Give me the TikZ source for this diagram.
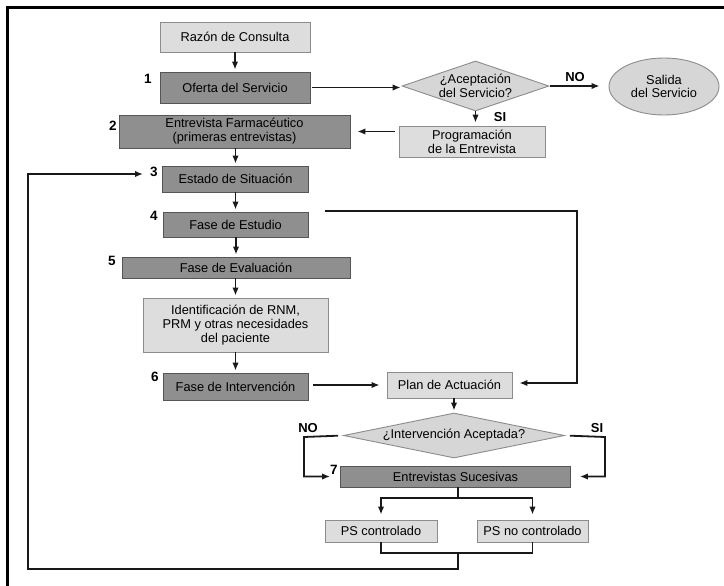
\documentclass[tikz,border=0pt]{standalone}
\usepackage{fontspec}
\setmainfont{Liberation Sans}
\usetikzlibrary{shapes.geometric,arrows.meta}
\definecolor{dkfill}{RGB}{143,143,143}
\definecolor{dkline}{RGB}{85,85,85}
\definecolor{ltfill}{RGB}{221,221,221}
\definecolor{ltline}{RGB}{140,140,140}
\definecolor{difill}{RGB}{214,214,214}
\begin{document}
\begin{tikzpicture}[x=1pt,y=-1pt,
  box/.style={draw=dkline,line width=0.9pt,inner sep=0pt,align=center,font=\fontsize{12.8}{13.8}\selectfont},
  dk/.style={box,fill=dkfill},
  lt/.style={box,fill=ltfill,draw=ltline},
  dia/.style={diamond,draw=ltline,fill=difill,line width=0.9pt,inner sep=0pt},
  ell/.style={ellipse,draw=ltline,fill=difill,line width=0.9pt,inner sep=0pt,align=center,
    minimum width=110pt,minimum height=57pt,font=\fontsize{12.8}{13.8}\selectfont},
  txt/.style={inner sep=0pt,align=center,font=\fontsize{12.8}{13.8}\selectfont},
  conn/.style={line width=1.8pt,draw=black!90,line join=miter},
  arr/.style={conn,-{Latex[length=8pt,width=6.5pt]}},
  num/.style={font=\fontsize{13.5}{13.5}\selectfont\bfseries,inner sep=0pt},
  lab/.style={font=\fontsize{13}{13}\selectfont\bfseries,inner sep=0pt}]

\useasboundingbox (0,0) rectangle (724,586);
\fill[white] (0,0) rectangle (724,586);
\draw[line width=3pt,line join=miter] (7,590) -- (7,8) -- (728,8);

% nodes
\node[lt,minimum width=150pt,minimum height=30pt] (raz) at (235,37) {Razón de Consulta};
\node[dk,minimum width=150pt,minimum height=31pt] (ofe) at (235,87.5) {Oferta del Servicio};
\node[dk,minimum width=231pt,minimum height=33pt] (ent) at (234.5,131.5) {Entrevista Farmacéutico\\(primeras entrevistas)};
\node[dk,minimum width=146pt,minimum height=26pt] (est) at (235.5,179) {Estado de Situación};
\node[dk,minimum width=145pt,minimum height=25pt] (stu) at (235.5,224.5) {Fase de Estudio};
\node[dk,minimum width=228pt,minimum height=21pt] (eva) at (236,267.5) {Fase de Evaluación};
\node[lt,minimum width=185pt,minimum height=54pt] (idn) at (235.5,325) {Identificación de RNM,\\PRM y otras necesidades\\del paciente};
\node[dk,minimum width=145pt,minimum height=27pt] (itv) at (235.5,386.5) {Fase de Intervención};
\node[lt,minimum width=125pt,minimum height=26pt] (plan) at (449.5,385) {Plan de Actuación};
\node[dia,minimum width=221pt,minimum height=45pt] (d2) at (454,435.5) {};
\node[txt] (d2t) at (d2) {¿Intervención Aceptada?};
\node[dk,minimum width=230pt,minimum height=21pt] (ses) at (455.5,476.5) {Entrevistas Sucesivas};
\node[lt,minimum width=112pt,minimum height=22pt] (psc) at (381,531) {PS controlado};
\node[lt,minimum width=111pt,minimum height=22pt] (psn) at (532.5,531) {PS no controlado};
\node[dia,minimum width=147pt,minimum height=50pt] (d1) at (475.5,86) {};
\node[txt] (d1t) at (d1) {¿Aceptación\\del Servicio?};
\node[ell] (sal) at (664,86.5) {Salida\\del Servicio};
\node[lt,minimum width=146pt,minimum height=31pt] (prog) at (472,141.5) {Programación\\de la Entrevista};

% numbers and labels
\node[num] (n1) at (148,79) {1};
\node[num] (n2) at (113,126) {2};
\node[num] (n3) at (154,172) {3};
\node[num] (n4) at (154,216) {4};
\node[num] (n5) at (112,261) {5};
\node[num] (n6) at (155,377) {6};
\node[num] (n7) at (334,470) {7};
\node[lab] (no1) at (575,77) {NO};
\node[lab] (si1) at (500,117) {SI};
\node[lab] (no2) at (308,428) {NO};
\node[lab] (si2) at (597,428) {SI};

% coordinates
\coordinate (r1) at (577,211);
\coordinate (l7) at (304,437);
\coordinate (rs) at (605,437);
\coordinate (sp) at (458,498);
\coordinate (jn) at (458,553);
\coordinate (lb) at (28,569);
\coordinate (a3) at (143,174);

% connectors
\draw[arr,shorten >=2pt] (raz) -- (ofe);
\draw[arr,shorten <=2pt,shorten >=1pt] (ofe.east) -- (ofe.east -| d1.west);
\draw[arr,shorten <=1pt,shorten >=9pt] (d1.east) -- (d1.east -| sal.west);
\draw[arr,shorten >=3pt] (d1.south) -- (d1.south |- prog.north);
\draw[arr,shorten <=4pt,shorten >=7pt] (prog.west |- ent.east) -- (ent.east);
\draw[arr,shorten >=2pt] (ent.south -| est.north) -- (est.north);
\draw[arr,shorten >=2pt] (est) -- (stu);
\draw[arr,shorten >=2pt] (stu.south -| eva.north) -- (eva.north);
\draw[arr,shorten >=2pt] (eva.south -| idn.north) -- (idn.north);
\draw[arr,shorten >=2pt] (idn) -- (itv);
\draw[arr,shorten <=5pt,shorten >=7pt] (itv.east |- plan.west) -- (plan.west);
\draw[arr,shorten >=7pt] ([xshift=17pt]stu.north east |- r1) -- (r1) |- ([yshift=2pt]plan.east);
\draw[arr,shorten >=2pt] (plan.south -| d2.north) -- (d2.north);
\draw[arr,shorten <=5pt,shorten >=10pt] (d2.west) -- (l7) |- (ses.west);
\draw[arr,shorten <=5pt,shorten >=9pt] (d2.east) -- (rs) |- (ses.east);
\draw[conn] (ses.south -| sp) -- (sp);
\draw[arr,shorten >=5pt] (sp) -| (psc.north);
\draw[arr,shorten >=5pt] (sp) -| (psn.north);
\draw[conn] (psc.south) -- (psc.south |- jn) -- (psn.south |- jn) -- (psn.south);
\draw[arr] (jn) |- (lb) |- (a3);
\end{tikzpicture}
\end{document}
